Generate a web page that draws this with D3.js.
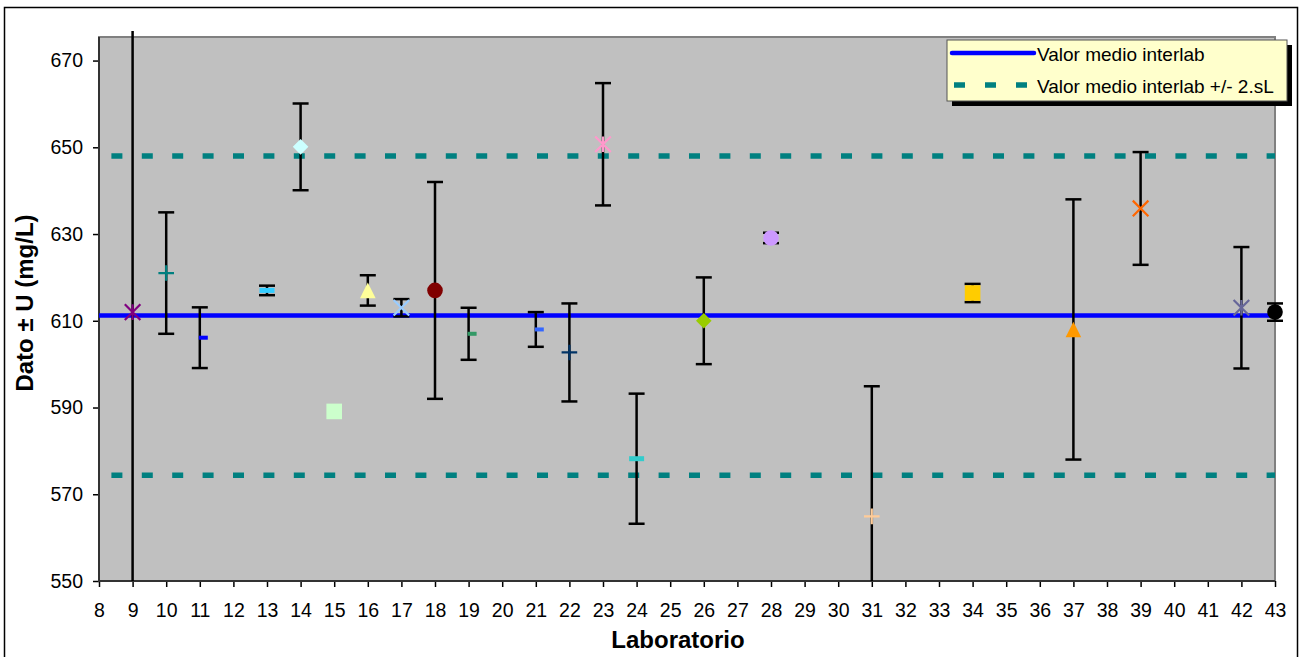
<!DOCTYPE html>
<html>
<head>
<meta charset="utf-8">
<script src="https://cdn.jsdelivr.net/npm/d3@7"></script>
<style>
  html, body { margin: 0; padding: 0; background: #fff; }
  svg { display: block; font-family: "Liberation Sans", Arial, sans-serif; }
</style>
</head>
<body>
<svg id="chart" width="1299" height="657"></svg>
<script>
// ---------------- DATA ----------------
const labs   = [9, 10, 11, 13, 14, 15, 16, 17, 18, 19, 21, 22, 23, 24, 26, 28, 31, 34, 37, 39, 42, 43];
const values = [612.0, 621.0, 606.1, 617.0, 650.1, 589.1, 617.0, 613.0, 617.0, 607.0, 608.0, 602.7, 650.7, 578.2, 610.0, 629.1, 564.9, 616.4, 608.0, 635.9, 613.0, 612.0];
const uncert = [100, 14, 7, 1.1, 10, 0, 3.5, 2, 25, 6, 4, 11.3, 14.1, 15, 10, 1.2, 30, 2.1, 30, 13, 14, 2];
const meanValue = 611.2;
const twoSL = 36.8;
const xTicks = d3.range(8, 44);
const yTicks = [550, 570, 590, 610, 630, 650, 670];
const legendLabels = ["Valor medio interlab", "Valor medio interlab +/- 2.sL"];
const xTitle = "Laboratorio";
const yTitle = "Dato \u00b1 U (mg/L)";

// ---------------- STYLES ----------------
const markerShapes = ["star","plus","dashS","dashL","diamond","square","triangle","x","circle","dashS","dashS","plus","star","dashL","diamond","circle","plus","square","triangle","x","star","circle"];
const markerColors = ["#800080","#008080","#0000FF","#33CCFF","#CCFFFF","#CCFFCC","#FFFF99","#99CCFF","#800000","#339966","#3366FF","#003366","#FF99CC","#33CCCC","#99CC00","#CC99FF","#FFCC99","#FFCC00","#FF9900","#FF6600","#666699","#000000"];

// ---------------- LAYOUT ----------------
const svg = d3.select("#chart");
const plot = { left: 99, right: 1275, top: 37, bottom: 581 };
const x = d3.scaleLinear().domain([8, 43]).range([plot.left, plot.right]);
const pxPerUnit = 4.337;
const y = d3.scaleLinear().domain([550, 550 + (plot.bottom - plot.top) / pxPerUnit]).range([plot.bottom, plot.top]);

// outer chart border
svg.append("rect").attr("x", 4.5).attr("y", 7.5).attr("width", 1293).attr("height", 670)
  .attr("fill", "#fff").attr("stroke", "#000").attr("stroke-width", 1.5);

// plot area
svg.append("rect").attr("x", plot.left).attr("y", plot.top)
  .attr("width", plot.right - plot.left).attr("height", plot.bottom - plot.top)
  .attr("fill", "#C0C0C0").attr("stroke", "#808080").attr("stroke-width", 2);

// axes
const yAxis = d3.axisLeft(y).tickValues(yTicks).tickSize(6).tickPadding(10).tickFormat(d3.format("d"));
const gy = svg.append("g").attr("transform", `translate(${plot.left},0)`).call(yAxis);
const xAxis = d3.axisBottom(x).tickValues(xTicks).tickSize(6).tickPadding(16).tickFormat(d3.format("d"));
const gx = svg.append("g").attr("transform", `translate(0,${plot.bottom})`).call(xAxis);
[gx, gy].forEach(g => {
  g.select(".domain").remove();
  g.selectAll(".tick line").attr("stroke", "#000").attr("stroke-width", 1.5);
  g.selectAll(".tick text").attr("font-size", "19.5px").attr("fill", "#000")
    .attr("font-family", "'Liberation Sans', Arial, sans-serif");
});
gx.selectAll(".tick text").attr("dy", "0.71em");
// axis lines
svg.append("line").attr("x1", plot.left).attr("x2", plot.left).attr("y1", plot.top).attr("y2", plot.bottom + 1)
  .attr("stroke", "#333").attr("stroke-width", 2);
svg.append("line").attr("x1", plot.left - 1).attr("x2", plot.right).attr("y1", plot.bottom).attr("y2", plot.bottom)
  .attr("stroke", "#333").attr("stroke-width", 2);

// mean line and limits
svg.append("line").attr("x1", plot.left).attr("x2", plot.right)
  .attr("y1", y(meanValue)).attr("y2", y(meanValue))
  .attr("stroke", "#0000FF").attr("stroke-width", 4.5);
[meanValue + twoSL, meanValue - twoSL].forEach(v => {
  svg.append("line").attr("x1", plot.left).attr("x2", plot.right)
    .attr("y1", y(v)).attr("y2", y(v))
    .attr("stroke", "#008080").attr("stroke-width", 5.5)
    .attr("stroke-dasharray", "11,19.4").attr("stroke-dashoffset", 18);
});

// clip for error bars
svg.append("clipPath").attr("id", "ebclip").append("rect")
  .attr("x", 0).attr("y", plot.top - 6).attr("width", 1299).attr("height", plot.bottom - plot.top + 6);

const data = labs.map((l, i) => ({ lab: l, v: values[i], u: uncert[i], shape: markerShapes[i], color: markerColors[i] }));

// error bars
const eb = svg.append("g").attr("clip-path", "url(#ebclip)");
data.filter(d => d.u > 0).forEach(d => {
  const cx = x(d.lab), yt = y(d.v + d.u), yb = y(d.v - d.u);
  eb.append("line").attr("x1", cx).attr("x2", cx).attr("y1", yt).attr("y2", yb)
    .attr("stroke", "#000").attr("stroke-width", 2.5);
  [yt, yb].forEach(yy => {
    eb.append("line").attr("x1", cx - 8).attr("x2", cx + 8).attr("y1", yy).attr("y2", yy)
      .attr("stroke", "#000").attr("stroke-width", 2.5);
  });
});

// markers
const mk = svg.append("g");
data.forEach(d => {
  const cx = x(d.lab), cy = y(d.v);
  const g = mk.append("g").attr("transform", `translate(${cx},${cy})`);
  const s = 7.8;
  switch (d.shape) {
    case "circle":
      g.append("circle").attr("r", s).attr("fill", d.color); break;
    case "square":
      g.append("rect").attr("x", -s).attr("y", -s).attr("width", 2 * s).attr("height", 2 * s).attr("fill", d.color); break;
    case "diamond":
      g.append("path").attr("d", `M0,${-s}L${s},0L0,${s}L${-s},0Z`).attr("fill", d.color); break;
    case "triangle":
      g.append("path").attr("d", `M0,${-s}L${s},${s}L${-s},${s}Z`).attr("fill", d.color); break;
    case "plus":
      g.append("path").attr("d", `M${-s},0H${s}M0,${-s}V${s}`).attr("stroke", d.color).attr("stroke-width", 2.2); break;
    case "x":
      g.append("path").attr("d", `M${-s},${-s}L${s},${s}M${-s},${s}L${s},${-s}`).attr("stroke", d.color).attr("stroke-width", 2.2); break;
    case "star":
      g.append("path").attr("d", `M${-s},${-s}L${s},${s}M${-s},${s}L${s},${-s}M0,${-s}V${s}`).attr("stroke", d.color).attr("stroke-width", 2.2); break;
    case "dashS":
      g.append("rect").attr("x", -1).attr("y", -2).attr("width", 9).attr("height", 4).attr("fill", d.color); break;
    case "dashL":
      g.append("rect").attr("x", -7.5).attr("y", -2.5).attr("width", 15).attr("height", 5).attr("fill", d.color); break;
  }
});

// axis titles
svg.append("text").attr("x", 678).attr("y", 648).attr("text-anchor", "middle")
  .attr("font-size", "24px").attr("font-weight", "bold").text(xTitle);
svg.append("text").attr("transform", "translate(33,303) rotate(-90)").attr("text-anchor", "middle")
  .attr("font-size", "24px").attr("font-weight", "bold").text(yTitle);

// legend
const lg = svg.append("g");
const L = { x: 947, y: 40, w: 340, h: 61 };
lg.append("rect").attr("x", L.x + 5).attr("y", L.y + 5).attr("width", L.w).attr("height", L.h).attr("fill", "#000");
lg.append("rect").attr("x", L.x).attr("y", L.y).attr("width", L.w).attr("height", L.h)
  .attr("fill", "#FFFFCC").attr("stroke", "#555").attr("stroke-width", 1);
lg.append("line").attr("x1", L.x + 5).attr("x2", L.x + 87).attr("y1", L.y + 13).attr("y2", L.y + 13)
  .attr("stroke", "#0000FF").attr("stroke-width", 4.5).attr("stroke-linecap", "round");
lg.append("line").attr("x1", L.x + 7).attr("x2", L.x + 87).attr("y1", L.y + 45).attr("y2", L.y + 45)
  .attr("stroke", "#008080").attr("stroke-width", 5.5).attr("stroke-dasharray", "11,20");
legendLabels.forEach((t, i) => {
  lg.append("text").attr("x", L.x + 90).attr("y", L.y + 21 + i * 31.5)
    .attr("font-size", "19px").attr("fill", "#000").text(t);
});
</script>
</body>
</html>
